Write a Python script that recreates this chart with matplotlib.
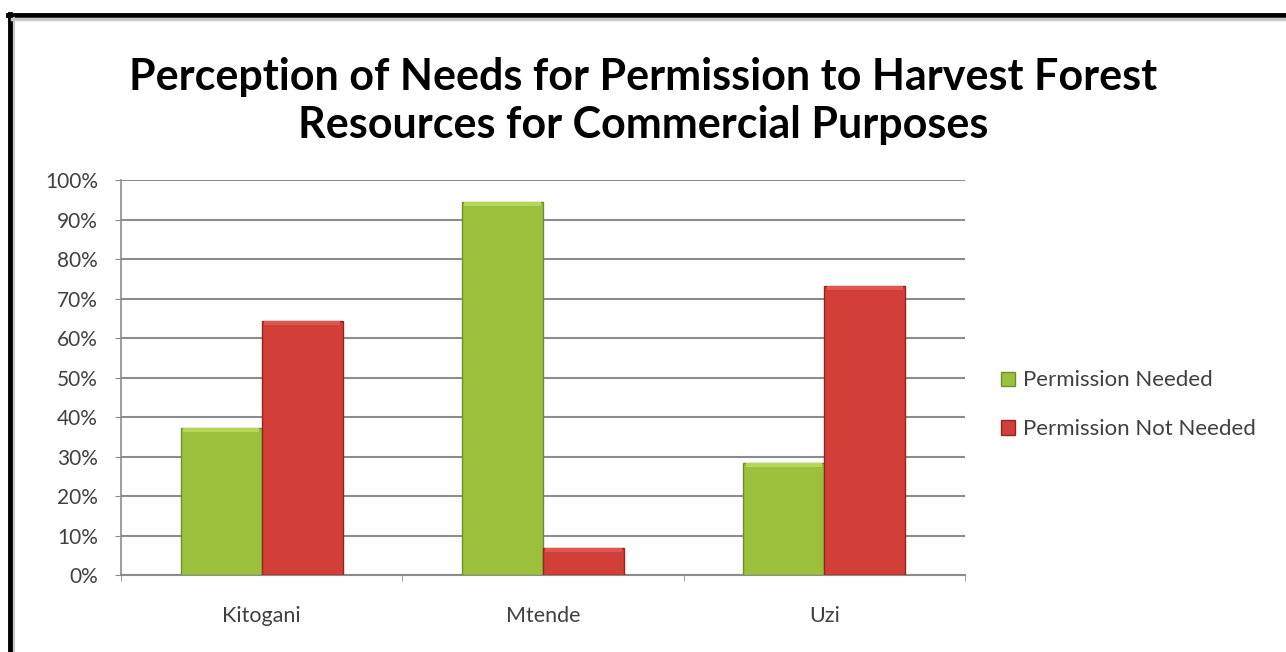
import numpy as np
import matplotlib.pyplot as plt
from matplotlib.lines import Line2D
from matplotlib.patches import Patch
from matplotlib.ticker import PercentFormatter, FixedLocator

villages = ['Kitogani', 'Mtende', 'Uzi']
needed = [37.2, 94.4, 28.4]
not_needed = [64.3, 6.8, 73.2]
series_names = ['Permission Needed', 'Permission Not Needed']

green = '#9bc03c'
red = '#d23e38'

plt.rcParams['font.family'] = ['Lato', 'DejaVu Sans']

fig = plt.figure(figsize=(12.86, 6.52), dpi=100)
ax = fig.add_axes([0.0941, 0.1181, 0.6563, 0.6058])

x = np.arange(len(villages))
w = 0.288
b1 = ax.bar(x - w / 2, needed, w, color=green, edgecolor='#6f8f2a', linewidth=1.0, zorder=3)
b2 = ax.bar(x + w / 2, not_needed, w, color=red, edgecolor='#8e2622', linewidth=1.0, zorder=3)

# light strip on top of each bar for the bevel look
for bars, hl in ((b1, '#b6d65a'), (b2, '#e05650')):
    for r in bars:
        h = r.get_height()
        ax.bar(r.get_x() + r.get_width() / 2, min(1.0, h * 0.3), r.get_width() * 0.94,
               bottom=h - min(1.0, h * 0.3), color=hl, linewidth=0, zorder=4)

ax.set_xlim(-0.5, 2.5)
ax.set_ylim(0, 100)
ax.yaxis.set_major_locator(FixedLocator(np.arange(0, 101, 10)))
ax.yaxis.set_major_formatter(PercentFormatter(decimals=0))
ax.set_xticks(x)
ax.set_xticklabels(villages)
ax.xaxis.set_minor_locator(FixedLocator([-0.5, 0.5, 1.5, 2.5]))

ax.grid(axis='y', color='#8c8c8c', linewidth=1.5, zorder=0)
for s in ['top', 'right']:
    ax.spines[s].set_visible(False)
ax.spines['left'].set_color('#8c8c8c')
ax.spines['bottom'].set_color('#8c8c8c')
ax.spines['left'].set_linewidth(1.2)
ax.spines['bottom'].set_linewidth(1.5)
ax.tick_params(axis='y', length=4.5, color='#8c8c8c', labelsize=15, labelcolor='#404040', pad=12)
ax.tick_params(axis='x', which='major', length=0, labelsize=15.5, labelcolor='#404040', pad=22)
ax.tick_params(axis='x', which='minor', length=4.5, color='#8c8c8c')

fig.text(0.5, 0.845, 'Perception of Needs for Permission to Harvest Forest\nResources for Commercial Purposes',
         ha='center', va='center', fontsize=31, fontweight='bold', color='black', linespacing=1.25)

handles = [Patch(facecolor=green, edgecolor='#6f8f2a'), Patch(facecolor=red, edgecolor='#8e2622')]
fig.legend(handles, series_names, loc='center left', bbox_to_anchor=(0.763, 0.379),
           frameon=False, fontsize=16, handlelength=0.6, handleheight=0.6,
           handletextpad=0.4, labelspacing=1.3, labelcolor='#404040')

# outer frame: thick black edge on the left and top
fig.add_artist(Line2D([10 / 1286, 10 / 1286], [0, 1 - 14 / 652], color='black', linewidth=3.5,
                      transform=fig.transFigure))
fig.add_artist(Line2D([8 / 1286, 1], [1 - 15 / 652, 1 - 15 / 652], color='black', linewidth=3.5,
                      transform=fig.transFigure))
fig.add_artist(Line2D([12 / 1286, 1], [1 - 19 / 652, 1 - 19 / 652], color='#c8c8c8', linewidth=2.5,
                      transform=fig.transFigure))
fig.add_artist(Line2D([14 / 1286, 14 / 1286], [0, 1 - 18 / 652], color='#c8c8c8', linewidth=1.5,
                      transform=fig.transFigure))

fig.savefig('out.png', dpi=100)
